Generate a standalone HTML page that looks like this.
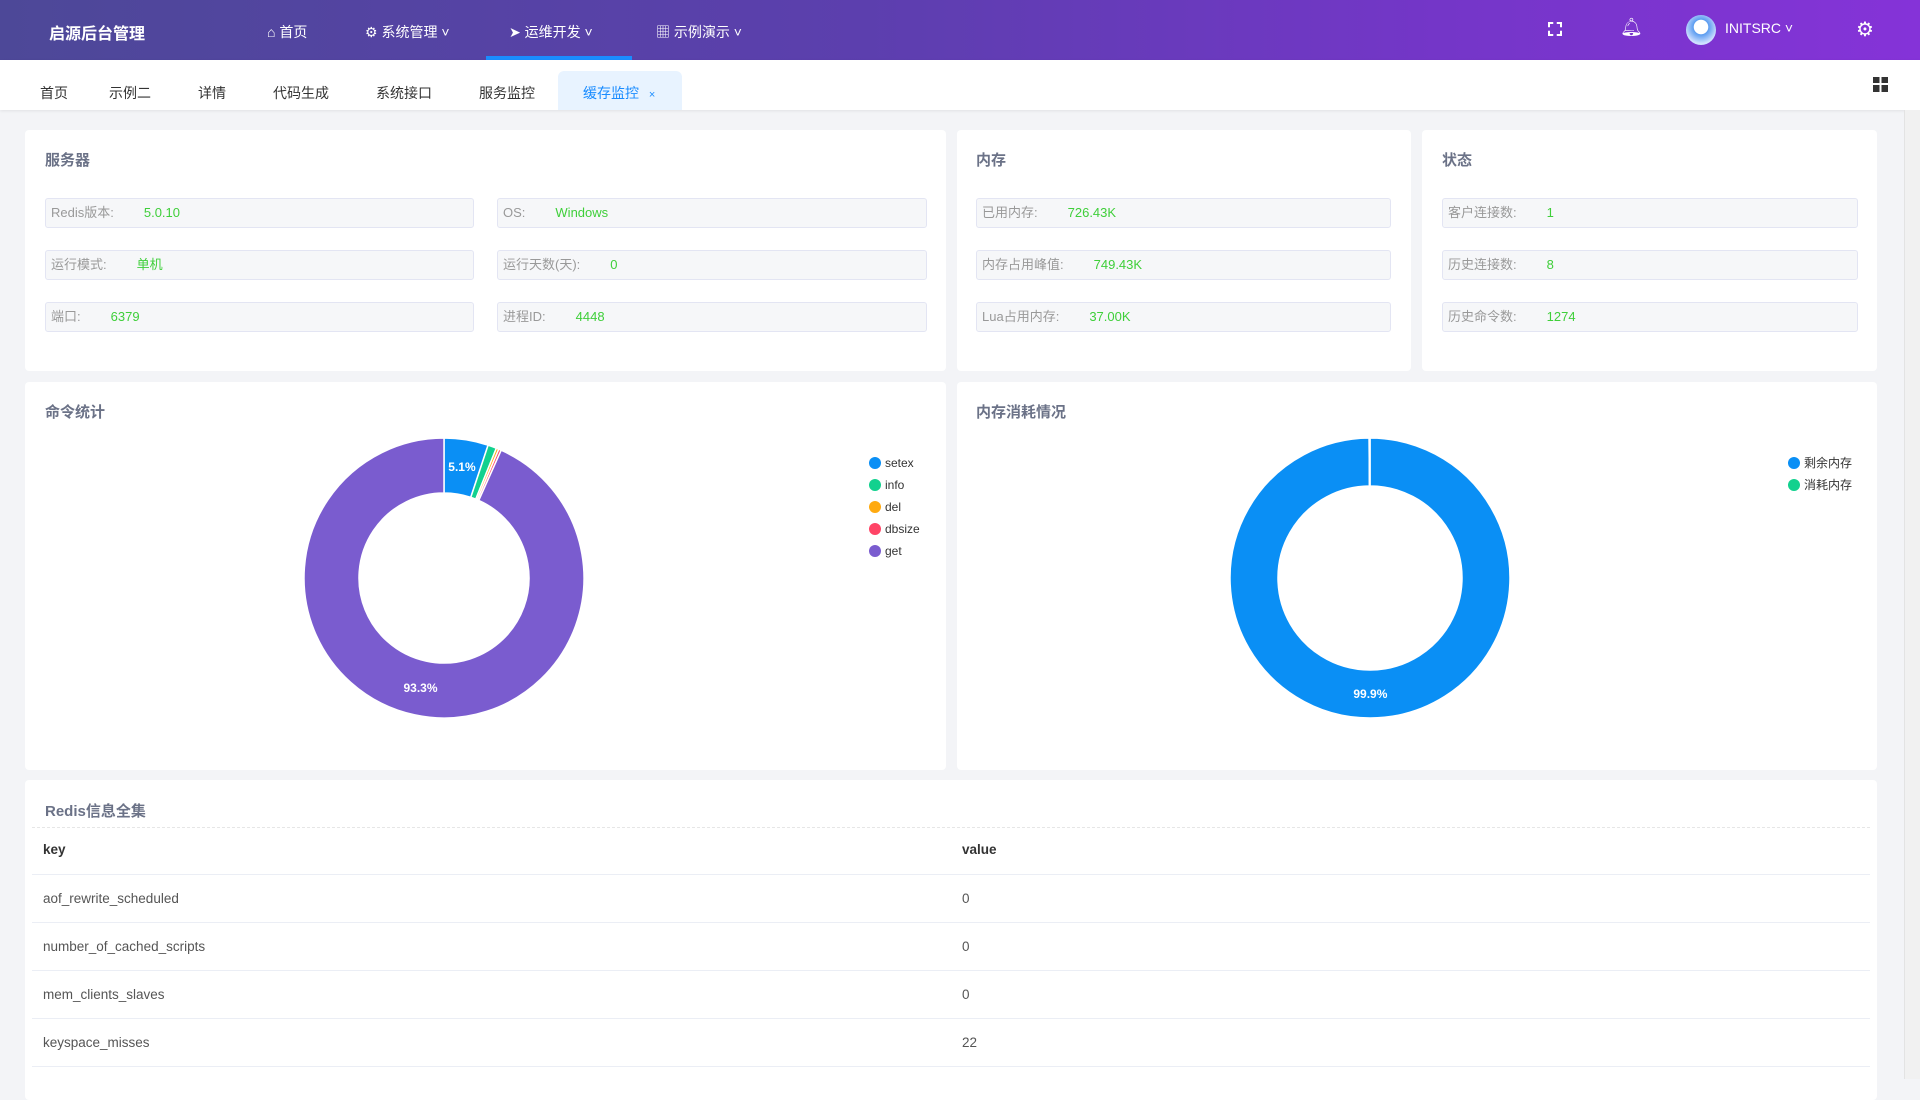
<!DOCTYPE html>
<html><head><meta charset="utf-8">
<style>
*{box-sizing:border-box;margin:0;padding:0}
body{width:1920px;height:1079px;overflow:hidden;background:#f3f4f7;font-family:"Liberation Sans","Noto Sans CJK SC",sans-serif;position:relative;color:#333}
.abs{position:absolute}
.hdr{left:0;top:0;width:1920px;height:60px;background:linear-gradient(90deg,#4d4898 0%,#5c3fae 45%,#7436c8 75%,#8533d8 100%)}
.nav{color:#fff;font-size:14px;top:22px}
.tabs{left:0;top:60px;width:1920px;height:50px;background:#fff;box-shadow:0 1px 3px rgba(0,0,0,.08)}
.tab{top:83px;font-size:14px;color:#333}
.card{background:#fff;border-radius:4px}
.ct{font-size:15px;font-weight:bold;color:#6b7287}
.box{height:30px;background:#f6f7f9;border:1px solid #e3e5f3;border-radius:3px;font-size:13px;color:#999;line-height:28px;padding-left:5px}
.box b{font-weight:normal;color:#3fcf3a;margin-left:30px}
.row{left:32px;width:1838px;height:48px;border-bottom:1px solid #ebeef5;font-size:13.5px;color:#555;line-height:48px}
.row span{position:absolute}
</style></head><body>
<div class="abs hdr"></div>
<div class="abs" style="left:49px;top:20px;color:#fff;font-size:16px;font-weight:bold">启源后台管理</div>
<div class="abs nav" style="left:267px">⌂ 首页</div>
<div class="abs nav" style="left:365px">⚙ 系统管理 ˅</div>
<div class="abs nav" style="left:509px">➤ 运维开发 ˅</div>
<div class="abs" style="left:486px;top:56px;width:146px;height:4px;background:#1a8cff"></div>
<div class="abs nav" style="left:656px">▦ 示例演示 ˅</div>
<div class="abs" style="left:1548px;top:22px;width:14px;height:14px;border:2px dashed #fff"></div>
<div class="abs nav" style="left:1620px;top:17px;font-size:18px">🔔︎</div>
<div class="abs" style="left:1686px;top:15px;width:30px;height:30px;border-radius:50%;background:radial-gradient(circle at 50% 40%,#fff 0 30%,#5b9cf0 32%,#cfe0ff 70%)"></div>
<div class="abs nav" style="left:1725px;top:20px">INITSRC ˅</div>
<div class="abs nav" style="left:1856px;top:17px;font-size:20px">⚙</div>

<div class="abs tabs"></div>
<div class="abs" style="left:558px;top:71px;width:124px;height:39px;background:#e8f3ff;border-radius:6px 6px 0 0"></div>
<div class="abs tab" style="left:40px">首页</div>
<div class="abs tab" style="left:109px">示例二</div>
<div class="abs tab" style="left:198px">详情</div>
<div class="abs tab" style="left:273px">代码生成</div>
<div class="abs tab" style="left:376px">系统接口</div>
<div class="abs tab" style="left:479px">服务监控</div>
<div class="abs tab" style="left:583px;color:#1a8cff">缓存监控 <span style="font-size:11px;margin-left:6px">×</span></div>
<div class="abs" style="left:1873px;top:77px;width:15px;height:15px;background:linear-gradient(90deg,#333 0 43%,transparent 43% 57%,#333 57%)"><div style="position:absolute;top:6px;left:0;width:15px;height:2px;background:#fff"></div></div>
<div class="abs" style="left:1904px;top:110px;width:16px;height:969px;background:#f1f1f1;border-left:1px solid #e3e3e3"></div>

<div class="abs card" style="left:25px;top:130px;width:921px;height:241px"></div>
<div class="abs ct" style="left:45px;top:149px">服务器</div>
<div class="abs box" style="left:45px;top:198px;width:429px">Redis版本:<b>5.0.10</b></div>
<div class="abs box" style="left:497px;top:198px;width:430px">OS:<b>Windows</b></div>
<div class="abs box" style="left:45px;top:250px;width:429px">运行模式:<b>单机</b></div>
<div class="abs box" style="left:497px;top:250px;width:430px">运行天数(天):<b>0</b></div>
<div class="abs box" style="left:45px;top:302px;width:429px">端口:<b>6379</b></div>
<div class="abs box" style="left:497px;top:302px;width:430px">进程ID:<b>4448</b></div>

<div class="abs card" style="left:957px;top:130px;width:454px;height:241px"></div>
<div class="abs ct" style="left:976px;top:149px">内存</div>
<div class="abs box" style="left:976px;top:198px;width:415px">已用内存:<b>726.43K</b></div>
<div class="abs box" style="left:976px;top:250px;width:415px">内存占用峰值:<b>749.43K</b></div>
<div class="abs box" style="left:976px;top:302px;width:415px">Lua占用内存:<b>37.00K</b></div>

<div class="abs card" style="left:1422px;top:130px;width:455px;height:241px"></div>
<div class="abs ct" style="left:1442px;top:149px">状态</div>
<div class="abs box" style="left:1442px;top:198px;width:416px">客户连接数:<b>1</b></div>
<div class="abs box" style="left:1442px;top:250px;width:416px">历史连接数:<b>8</b></div>
<div class="abs box" style="left:1442px;top:302px;width:416px">历史命令数:<b>1274</b></div>

<div class="abs card" style="left:25px;top:382px;width:921px;height:388px"></div>
<div class="abs ct" style="left:45px;top:401px">命令统计</div>
<div class="abs card" style="left:957px;top:382px;width:920px;height:388px"></div>
<div class="abs ct" style="left:976px;top:401px">内存消耗情况</div>
<svg class="abs" id="charts" style="left:0;top:0" width="1920" height="1079"></svg>

<div class="abs card" style="left:25px;top:780px;width:1852px;height:320px"></div>
<div class="abs ct" style="left:45px;top:800px">Redis信息全集</div>
<div class="abs" style="left:32px;top:827px;width:1838px;border-top:1px dashed #e6e6e6"></div>
<div class="abs row" style="top:826px;font-weight:bold;color:#333;height:49px"><span style="left:11px">key</span><span style="left:930px">value</span></div>
<div class="abs row" style="top:875px"><span style="left:11px">aof_rewrite_scheduled</span><span style="left:930px">0</span></div>
<div class="abs row" style="top:923px"><span style="left:11px">number_of_cached_scripts</span><span style="left:930px">0</span></div>
<div class="abs row" style="top:971px"><span style="left:11px">mem_clients_slaves</span><span style="left:930px">0</span></div>
<div class="abs row" style="top:1019px"><span style="left:11px">keyspace_misses</span><span style="left:930px">22</span></div>

<script>
const cmdNames=["setex","info","del","dbsize","get"];
const cmdValues=[5.1,1.0,0.3,0.3,93.3];
const cmdColors=["#0a8ff5","#12d18e","#ffaa10","#ff4466","#7a5ccf"];
const memNames=["剩余内存","消耗内存"];
const memValues=[99.9,0.1];
const memColors=["#0a8ff5","#12d18e"];
const NS="http://www.w3.org/2000/svg";
const svg=document.getElementById('charts');
function pt(cx,cy,r,a){return [cx+r*Math.sin(a),cy-r*Math.cos(a)];}
function donut(cx,cy,ro,ri,vals,cols,names,lx,ly,prefix){
  const tot=vals.reduce((a,b)=>a+b,0);let a0=0;
  vals.forEach((v,i)=>{
    const a1=a0+v/tot*2*Math.PI;const lg=(a1-a0)>Math.PI?1:0;
    const p1=pt(cx,cy,ro,a0),p2=pt(cx,cy,ro,a1),p3=pt(cx,cy,ri,a1),p4=pt(cx,cy,ri,a0);
    const p=document.createElementNS(NS,'path');
    p.setAttribute('d',`M${p1}A${ro},${ro} 0 ${lg} 1 ${p2}L${p3}A${ri},${ri} 0 ${lg} 0 ${p4}Z`);
    p.setAttribute('fill',cols[i]);p.setAttribute('stroke','#fff');p.setAttribute('stroke-width','1.5');
    
    
    svg.appendChild(p);
    const pct=v/tot*100;
    if(pct>=5){
      const m=(a0+a1)/2;const lp=pt(cx,cy,(ro+ri)/2,m);
      const t=document.createElementNS(NS,'text');
      t.setAttribute('x',lp[0]);t.setAttribute('y',lp[1]+4);t.setAttribute('text-anchor','middle');
      t.setAttribute('font-size','12');t.setAttribute('font-weight','bold');t.setAttribute('fill','#fff');
      t.setAttribute('font-family','Liberation Sans, sans-serif');
      t.textContent=pct.toFixed(1)+'%';
      
      
      svg.appendChild(t);
    }
    a0=a1;
  });
  names.forEach((n,i)=>{
    const c=document.createElementNS(NS,'circle');
    c.setAttribute('cx',lx);c.setAttribute('cy',ly+i*22);c.setAttribute('r',6);c.setAttribute('fill',cols[i]);
    
    
    svg.appendChild(c);
    const t=document.createElementNS(NS,'text');
    t.setAttribute('x',lx+10);t.setAttribute('y',ly+i*22+4);t.setAttribute('font-size','12');t.setAttribute('fill','#333');
    t.setAttribute('font-family','Liberation Sans, Noto Sans CJK SC, sans-serif');
    t.textContent=n;
    
    
    svg.appendChild(t);
  });
}
donut(444,578,140,85,cmdValues,cmdColors,cmdNames,875,463,'cmd');
donut(1370,578,140,92,memValues,memColors,memNames,1794,463,'mem');
</script>
</body></html>
